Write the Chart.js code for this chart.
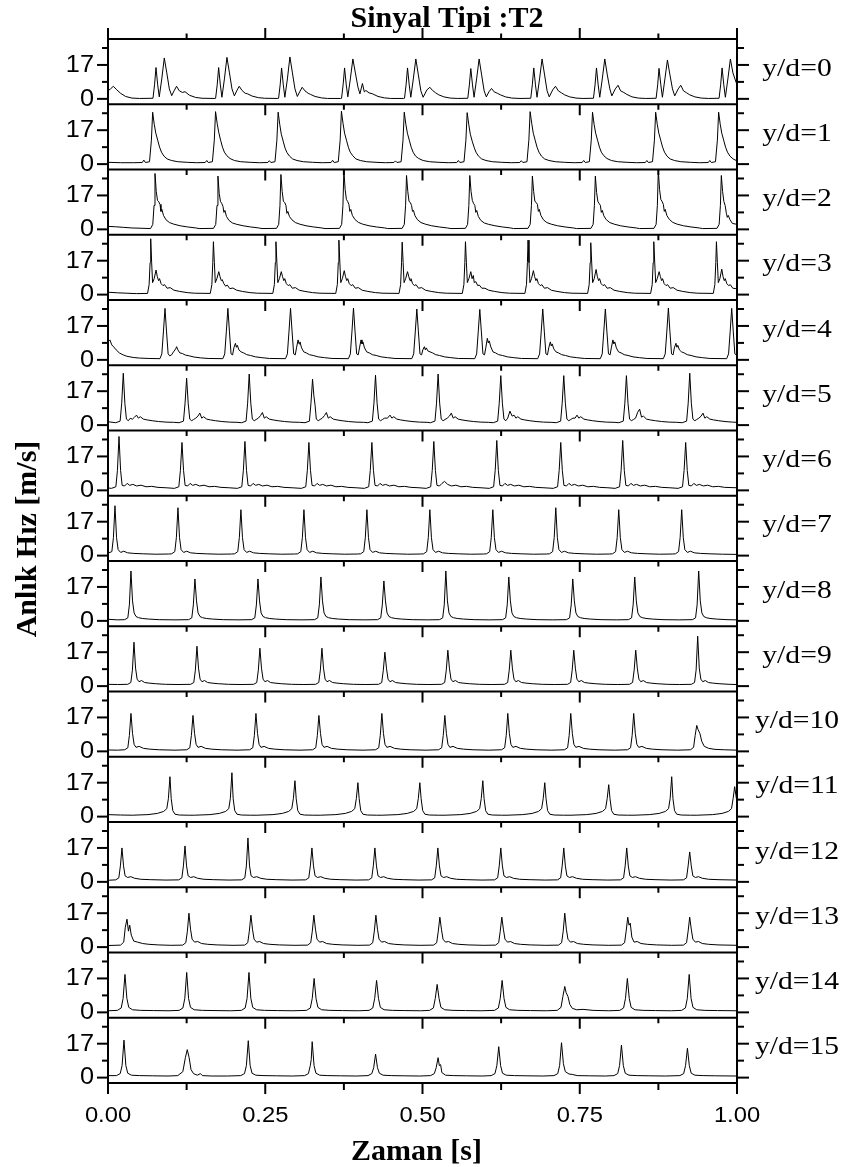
<!DOCTYPE html>
<html>
<head>
<meta charset="utf-8">
<script src="https://cdn.jsdelivr.net/npm/chart.js@4.4.0/dist/chart.umd.min.js"></script>
<style>
html,body{margin:0;padding:0;background:#fff;}
#wrap{position:relative;width:852px;height:1167px;}
</style>
</head>
<body>
<div id="wrap"><canvas id="c" width="852" height="1167"></canvas></div>
<script>
// ---- texts and ticks ----
const chartTitle = 'Sinyal Tipi :T2';
const xTitle = 'Zaman [s]';
const yTitle = 'Anlık Hız [m/s]';
const panelLabels = ['y/d=0','y/d=1','y/d=2','y/d=3','y/d=4','y/d=5','y/d=6','y/d=7',
                     'y/d=8','y/d=9','y/d=10','y/d=11','y/d=12','y/d=13','y/d=14','y/d=15'];
const xTickValues = [0, 0.25, 0.5, 0.75, 1.0];
const xTickLabels = ['0.00', '0.25', '0.50', '0.75', '1.00'];
const xMinorTicks = [0.125, 0.375, 0.625, 0.875];
const yTickValues = [0, 17];
const yTickLabels = ['0', '17'];
const yMinorTicks = [8.5, 25.5];
const yRange = [-2.7, 30];
const xRange = [0, 1];

// ---- series: flat lists of (time [s], velocity [m/s]) ----
const yd0 = [0,4, 0.004,5, 0.0085,6.3, 0.014,4.5, 0.02,2.8, 0.028,1.2, 0.038,0.4, 0.05,0.2,
0.0715,0.3, 0.074,7, 0.0763,15.7, 0.079,7, 0.0815,1, 0.0855,10, 0.0895,20.5, 0.0935,13, 0.0975,5, 0.1013,1.6, 0.105,4, 0.109,6.3, 0.1135,4, 0.1185,3.2, 0.1225,3.6, 0.1295,1.8, 0.1395,0.7, 0.1495,0.3, 0.17,0.2,
0.1711,0.3, 0.1736,7, 0.1759,15.7, 0.1786,7, 0.1811,0.8, 0.1851,10, 0.1891,20.8, 0.1931,13, 0.1971,5, 0.2009,1.5, 0.2046,4, 0.2086,6.3, 0.2131,4.2, 0.2181,2.8, 0.2221,2.5, 0.2291,1.4, 0.2391,0.6, 0.2491,0.3, 0.27,0.2,
0.2712,0.3, 0.2737,7, 0.276,15.5, 0.2787,7, 0.2812,0.8, 0.2852,10, 0.2892,21, 0.2932,13, 0.2972,5, 0.301,1.2, 0.3047,3.5, 0.3087,5.8, 0.3132,4, 0.3182,2.8, 0.3222,2.2, 0.3292,1.2, 0.3392,0.5, 0.3492,0.2, 0.37,0.2,
0.3713,0.3, 0.3738,7, 0.3761,15.5, 0.3788,7, 0.3813,1, 0.3853,10, 0.3893,20, 0.3933,13, 0.3973,6, 0.4005,2.5, 0.4045,7.7, 0.4075,3.5, 0.41,4.2, 0.415,3, 0.42,2.6, 0.4293,1.2, 0.4393,0.5, 0.4493,0.2, 0.47,0.2,
0.4714,0.3, 0.4739,7, 0.4762,15.5, 0.4789,7, 0.4814,0.8, 0.4854,10, 0.4894,20, 0.4934,12, 0.4974,4, 0.501,0.8, 0.507,4.5, 0.5117,5.8, 0.516,4.2, 0.521,3, 0.526,2, 0.534,1, 0.544,0.4, 0.556,0.2,
0.572,0.3, 0.5745,7, 0.5768,15.2, 0.5795,7, 0.582,0.8, 0.586,10, 0.59,20, 0.594,12, 0.598,4, 0.6015,1, 0.6055,3.5, 0.6097,5.2, 0.614,3.5, 0.619,2.8, 0.624,2, 0.632,1, 0.642,0.4, 0.655,0.2,
0.6721,0.3, 0.6746,7, 0.6769,15.5, 0.6796,7, 0.6821,0.8, 0.6861,10, 0.6901,20, 0.6941,12, 0.6981,4, 0.7015,1, 0.707,4.5, 0.7114,6.3, 0.716,4, 0.721,3, 0.726,2, 0.734,1, 0.744,0.4, 0.755,0.2,
0.7718,0.3, 0.7743,7, 0.7766,15.5, 0.7793,7, 0.7818,0.8, 0.7858,10, 0.7898,20, 0.7938,12, 0.7978,5, 0.801,1.5, 0.8065,5, 0.8109,6.8, 0.815,4, 0.82,3.2, 0.825,2.2, 0.833,1, 0.843,0.4, 0.855,0.2,
0.8714,0.3, 0.8739,7, 0.876,15.3, 0.8789,7, 0.8814,0.8, 0.8854,10, 0.8894,19.5, 0.8934,12, 0.8974,5, 0.901,1.5, 0.9065,5, 0.9106,6.8, 0.915,4, 0.92,3, 0.925,2, 0.933,1, 0.943,0.4, 0.955,0.2,
0.9715,0.3, 0.974,7, 0.9763,15.5, 0.979,7, 0.9815,0.8, 0.9855,10, 0.9895,20, 0.9935,13, 1,7];

const yd1 = [0,0.9, 0.02,0.7,
0.041,0.7, 0.0545,0.8, 0.057,2, 0.0595,0.8, 0.066,1.2, 0.069,12, 0.071,26, 0.0735,20, 0.076,15.5, 0.079,12, 0.082,8.5, 0.085,6, 0.089,4, 0.094,2.6, 0.101,1.8, 0.111,1.2, 0.126,0.9, 0.141,0.7,
0.1545,0.8, 0.157,1.8, 0.1595,0.8, 0.166,1.2, 0.169,12, 0.171,26.3, 0.1735,20.5, 0.176,16, 0.179,12, 0.182,8.5, 0.185,6, 0.189,4.2, 0.194,2.8, 0.201,1.8, 0.211,1.2, 0.226,0.9, 0.241,0.7,
0.254,0.8, 0.2565,1.7, 0.259,0.8, 0.2655,1.2, 0.2685,12, 0.2705,26, 0.273,20, 0.2755,15, 0.2785,11.5, 0.2815,8, 0.2845,5.8, 0.2885,4, 0.2935,2.6, 0.3005,1.8, 0.3105,1.2, 0.3255,0.9, 0.3405,0.7,
0.3546,0.8, 0.3571,1.9, 0.3596,0.8, 0.3661,1.2, 0.3691,12, 0.3711,26.5, 0.3736,20.5, 0.3761,15.5, 0.3791,12, 0.3821,8.5, 0.3851,6, 0.3891,4.2, 0.3941,2.6, 0.4011,1.8, 0.4111,1.2, 0.4261,0.9, 0.4411,0.7,
0.4545,0.8, 0.457,1.6, 0.4595,0.8, 0.466,1.2, 0.469,12, 0.471,26, 0.4735,20, 0.476,15.5, 0.479,12, 0.482,8.5, 0.485,6, 0.489,4, 0.494,2.8, 0.501,1.8, 0.511,1.2, 0.526,0.9, 0.541,0.7,
0.5545,0.8, 0.557,1.8, 0.5595,0.8, 0.566,1.2, 0.569,12, 0.571,25.8, 0.5735,20, 0.576,15, 0.579,11.5, 0.582,8.5, 0.585,6, 0.589,4, 0.594,2.6, 0.601,1.8, 0.611,1.2, 0.626,0.9, 0.641,0.7,
0.6546,0.8, 0.6571,1.7, 0.6596,0.8, 0.6661,1.2, 0.6691,12, 0.6711,26.3, 0.6736,20.5, 0.6761,15.5, 0.6791,12, 0.6821,8.5, 0.6851,6, 0.6891,4, 0.6941,2.6, 0.7011,1.8, 0.7111,1.2, 0.7261,0.9, 0.7411,0.7,
0.7538,0.8, 0.7563,1.8, 0.7588,0.8, 0.7653,1.2, 0.7683,12, 0.7703,26, 0.7728,20, 0.7753,15.5, 0.7783,12, 0.7813,8.5, 0.7843,6, 0.7883,4.2, 0.7933,2.8, 0.8003,1.8, 0.8103,1.2, 0.8253,0.9, 0.8403,0.7,
0.8542,0.8, 0.8567,1.8, 0.8592,0.8, 0.8657,1.2, 0.8687,12, 0.8707,26, 0.8732,20, 0.8757,15.5, 0.8787,12, 0.8817,8.5, 0.8847,6, 0.8887,4, 0.8937,2.6, 0.9007,1.8, 0.9107,1.2, 0.9257,0.9, 0.9407,0.7,
0.9543,0.8, 0.9568,1.8, 0.9593,0.8, 0.9658,1.2, 0.9688,12, 0.9708,26, 0.9733,20, 0.9758,15.5, 0.9788,12, 0.9818,8.5, 0.9848,6, 0.9888,4, 0.9938,2.6, 1,1.6];

const yd2 = [0,1.5, 0.012,1.3, 0.025,1, 0.038,0.7, 0.0677,0.4,
0.0712,2.5, 0.0732,12, 0.0747,28, 0.0767,19, 0.0787,14.5, 0.0807,13.8, 0.0827,12.5, 0.0842,9, 0.0857,10, 0.0882,7, 0.0922,4.8, 0.0977,3.4, 0.1047,2.6, 0.1147,1.8, 0.1267,1.2, 0.1397,0.7,
0.1448,0.4, 0.1678,0.5, 0.1713,2.5, 0.1733,12, 0.1748,26.7, 0.1768,18, 0.1788,14, 0.1808,13, 0.1828,11.5, 0.1843,8.5, 0.1858,9.5, 0.1883,6.5, 0.1923,4.5, 0.1978,3.2, 0.2048,2.5, 0.2148,1.8, 0.2268,1.2, 0.2398,0.7,
0.2449,0.4, 0.2679,0.5, 0.2714,2.5, 0.2734,12, 0.2749,27.5, 0.2769,19, 0.2789,14, 0.2809,13.5, 0.2829,12, 0.2844,8, 0.2859,9, 0.2884,6.5, 0.2924,4.8, 0.2979,3.4, 0.3049,2.6, 0.3149,1.8, 0.3269,1.2, 0.3399,0.7,
0.345,0.4, 0.368,0.5, 0.3715,2.5, 0.3735,12, 0.375,29.5, 0.377,20, 0.379,15, 0.381,14, 0.383,12.5, 0.3845,9, 0.386,10, 0.3885,7, 0.3925,5, 0.398,3.5, 0.405,2.6, 0.415,1.8, 0.427,1.2, 0.44,0.7,
0.4446,0.4, 0.4676,0.5, 0.4711,2.5, 0.4731,12, 0.4746,27, 0.4766,19, 0.4786,14, 0.4806,13.5, 0.4826,12, 0.4841,9, 0.4856,9.5, 0.4881,6.8, 0.4921,4.8, 0.4976,3.4, 0.5046,2.6, 0.5146,1.8, 0.5266,1.2, 0.5396,0.7,
0.5452,0.4, 0.5682,0.5, 0.5717,2.5, 0.5737,12, 0.5752,27, 0.5772,19, 0.5792,14.5, 0.5812,13, 0.5832,12, 0.5847,8.5, 0.5862,9.5, 0.5887,6.5, 0.5927,4.5, 0.5982,3.2, 0.6052,2.5, 0.6152,1.8, 0.6272,1.2, 0.6402,0.7,
0.6447,0.4, 0.6677,0.5, 0.6712,2.5, 0.6732,12, 0.6747,26.7, 0.6767,19, 0.6787,14, 0.6807,13.5, 0.6827,12.5, 0.6842,9, 0.6857,10, 0.6882,7, 0.6922,4.8, 0.6977,3.4, 0.7047,2.6, 0.7147,1.8, 0.7267,1.2, 0.7397,0.7,
0.7448,0.4, 0.7678,0.5, 0.7713,2.5, 0.7733,12, 0.7748,26.7, 0.7768,18.5, 0.7788,14, 0.7808,13, 0.7828,12, 0.7843,8.5, 0.7858,9.5, 0.7883,6.8, 0.7923,4.8, 0.7978,3.4, 0.8048,2.6, 0.8148,1.8, 0.8268,1.2, 0.8398,0.7,
0.8449,0.4, 0.8679,0.5, 0.8714,2.5, 0.8734,12, 0.8749,29.5, 0.8769,20, 0.8789,15, 0.8809,14, 0.8829,12.5, 0.8844,9, 0.8859,10, 0.8884,7, 0.8924,5, 0.8979,3.5, 0.9049,2.6, 0.9149,1.8, 0.9269,1.2, 0.9399,0.7,
0.9451,0.4, 0.9681,0.5, 0.9716,2.5, 0.9736,12, 0.9751,27, 0.9771,19, 0.9791,14, 0.9811,12, 0.9831,8, 0.9846,6, 0.9861,7, 0.9886,5, 0.9926,3, 1,2.5];

const yd3 = [0,1.2, 0.015,0.9, 0.03,0.7, 0.045,0.5,
0.0629,0.6, 0.0654,5, 0.0669,16, 0.0679,28, 0.0694,16, 0.0709,6, 0.0734,8, 0.0764,12.3, 0.0784,9, 0.0804,7, 0.0819,8, 0.0844,5.5, 0.0874,4.5, 0.0899,5, 0.0939,3.2, 0.0989,3.5, 0.1049,2.2, 0.1139,1.6, 0.1259,1, 0.1379,0.7,
0.1626,0.6, 0.1651,5, 0.1666,16, 0.1676,26.5, 0.1691,16, 0.1706,6, 0.1731,8, 0.1761,11.5, 0.1781,9, 0.1801,7, 0.1816,7.5, 0.1841,5.5, 0.1871,4.2, 0.1896,4.8, 0.1936,3, 0.1986,3.3, 0.2046,2.2, 0.2136,1.6, 0.2256,1, 0.2376,0.7,
0.262,0.6, 0.2645,5, 0.266,16, 0.267,26.5, 0.2685,16, 0.27,6, 0.2725,8, 0.2755,11.5, 0.2775,9, 0.2795,7, 0.281,8, 0.2835,5.5, 0.2865,4.5, 0.289,5, 0.293,3.2, 0.298,3.5, 0.304,2.2, 0.313,1.6, 0.325,1, 0.337,0.7,
0.3621,0.6, 0.3646,5, 0.3661,16, 0.3671,27.3, 0.3686,16, 0.3701,6, 0.3726,8, 0.3756,12, 0.3776,9, 0.3796,7, 0.3811,8, 0.3836,5.5, 0.3866,4.5, 0.3891,5, 0.3931,3.2, 0.3981,3.5, 0.4041,2.2, 0.4131,1.6, 0.4251,1, 0.4371,0.7,
0.4627,0.6, 0.4652,5, 0.4667,16, 0.4677,26.3, 0.4692,16, 0.4707,6, 0.4732,8, 0.4762,11.5, 0.4782,9, 0.4802,7, 0.4817,8, 0.4842,5.5, 0.4872,4.5, 0.4897,5, 0.4937,3.2, 0.4987,3.5, 0.5047,2.2, 0.5137,1.6, 0.5257,1, 0.5377,0.7,
0.5633,0.6, 0.5658,5, 0.5673,16, 0.5683,26.5, 0.5698,16, 0.5713,6, 0.5738,8, 0.5768,11.5, 0.5788,8, 0.5808,9.6, 0.5823,6, 0.5848,6.5, 0.5878,4.5, 0.5903,4.8, 0.5943,3.2, 0.5993,3.2, 0.6053,2.2, 0.6143,1.6, 0.6263,1, 0.6383,0.7,
0.6628,0.6, 0.6653,5, 0.6668,16, 0.6678,27.3, 0.6693,16, 0.6708,6, 0.6733,8, 0.6763,12, 0.6783,9, 0.6803,7, 0.6818,8, 0.6843,5.5, 0.6873,4.5, 0.6898,5, 0.6938,3.2, 0.6988,3.5, 0.7048,2.2, 0.7138,1.6, 0.7258,1, 0.7378,0.7,
0.7625,0.6, 0.765,5, 0.7665,16, 0.7675,26, 0.769,16, 0.7705,6, 0.773,8, 0.776,12.6, 0.778,9, 0.78,7, 0.7815,8, 0.784,5.5, 0.787,4.5, 0.7895,5, 0.7935,3.2, 0.7985,3.5, 0.8045,2.2, 0.8135,1.6, 0.8255,1, 0.8375,0.7,
0.8627,0.6, 0.8652,5, 0.8667,16, 0.8677,26.5, 0.8692,16, 0.8707,6, 0.8732,8, 0.8762,11.5, 0.8782,9, 0.8802,7, 0.8817,8, 0.8842,5.5, 0.8872,4.5, 0.8897,5, 0.8937,3.2, 0.8987,3.5, 0.9047,2.2, 0.9137,1.6, 0.9257,1, 0.9377,0.7,
0.9623,0.6, 0.9648,5, 0.9663,16, 0.9673,26.5, 0.9688,16, 0.9703,6, 0.9728,8, 0.9758,12.8, 0.9778,9, 0.9798,7, 0.9813,8, 0.9838,5.5, 0.9868,4.5, 0.9893,5, 0.9933,3.2, 0.9983,3, 1,2.5];

const yd4 = [0,9, 0.003,10, 0.006,7.5, 0.009,6.5, 0.013,5, 0.018,3.5, 0.024,2.5, 0.03,1.8, 0.04,1.2, 0.05,0.9, 0.065,0.7,
0.0826,0.6, 0.0856,3, 0.0881,14, 0.0906,25.8, 0.0931,14, 0.0956,3, 0.0981,2, 0.1011,2.5, 0.1041,4, 0.1076,5.5, 0.1091,6.6, 0.1111,5, 0.1141,3.5, 0.1181,3.2, 0.1231,2.4, 0.1291,2, 0.1371,1.4, 0.1471,1, 0.1591,0.7,
0.1826,0.6, 0.1856,3, 0.1881,14, 0.1906,25.8, 0.1931,14, 0.1956,3, 0.1981,2.5, 0.2001,6, 0.2026,8.3, 0.2041,6.3, 0.2056,7.3, 0.2081,5, 0.2116,4, 0.2156,3.5, 0.2206,2.6, 0.2266,2.2, 0.2346,1.5, 0.2446,1.1, 0.2566,0.7,
0.2822,0.6, 0.2852,3, 0.2877,14, 0.2902,25.8, 0.2927,14, 0.2952,3, 0.2977,2.5, 0.2997,6, 0.3022,10, 0.3037,8, 0.3052,9, 0.3077,6, 0.3112,4, 0.3152,3.5, 0.3202,2.6, 0.3262,2.2, 0.3342,1.5, 0.3442,1.1, 0.3562,0.7,
0.3823,0.6, 0.3853,3, 0.3878,14, 0.3903,26, 0.3928,14, 0.3953,3, 0.3978,2.5, 0.3998,6, 0.4023,10, 0.4038,8, 0.4053,9, 0.4078,6, 0.4113,4, 0.4153,3.5, 0.4203,2.6, 0.4263,2.2, 0.4343,1.5, 0.4443,1.1, 0.4563,0.7,
0.483,0.6, 0.486,3, 0.4885,14, 0.491,25.5, 0.4935,14, 0.496,3, 0.4985,2.5, 0.5005,5, 0.503,6.6, 0.5045,5, 0.506,6, 0.5085,4.5, 0.512,4, 0.516,3.5, 0.521,2.6, 0.527,2.2, 0.535,1.5, 0.545,1.1, 0.557,0.7,
0.5831,0.6, 0.5861,3, 0.5886,14, 0.5911,25.3, 0.5936,14, 0.5961,3, 0.5986,2.5, 0.6006,6, 0.6031,10.8, 0.6046,8.5, 0.6061,9.5, 0.6086,6.5, 0.6121,4, 0.6161,3.5, 0.6211,2.6, 0.6271,2.2, 0.6351,1.5, 0.6451,1.1, 0.6571,0.7,
0.6832,0.6, 0.6862,3, 0.6887,14, 0.6912,25.5, 0.6937,14, 0.6962,3, 0.6987,2.5, 0.7007,6, 0.7032,9, 0.7047,7, 0.7062,8, 0.7087,5.5, 0.7122,4, 0.7162,3.5, 0.7212,2.6, 0.7272,2.2, 0.7352,1.5, 0.7452,1.1, 0.7572,0.7,
0.7827,0.6, 0.7857,3, 0.7882,14, 0.7907,25.5, 0.7932,14, 0.7957,3, 0.7982,2.5, 0.8002,6, 0.8027,10, 0.8042,8, 0.8057,9, 0.8082,6, 0.8117,4, 0.8157,3.5, 0.8207,2.6, 0.8267,2.2, 0.8347,1.5, 0.8447,1.1, 0.8567,0.7,
0.8829,0.6, 0.8859,3, 0.8884,14, 0.8909,26, 0.8934,14, 0.8959,3, 0.8984,2.5, 0.9004,6, 0.9029,8.3, 0.9044,6.3, 0.9059,7.3, 0.9084,5, 0.9119,4, 0.9159,3.5, 0.9209,2.6, 0.9269,2.2, 0.9349,1.5, 0.9449,1.1, 0.9569,0.7,
0.9836,0.6, 0.9866,3, 0.9891,14, 0.9916,25.8, 0.9941,14, 0.9966,3, 0.9991,2.5, 1,4];

const yd5 = [0,1.7,
0.0123,1.2, 0.0193,2, 0.0218,11, 0.0243,26, 0.0268,11, 0.0293,3, 0.0323,2.2, 0.0353,3.4, 0.0388,3, 0.0423,4, 0.0453,5, 0.0483,3.5, 0.0513,4.2, 0.0563,3, 0.0623,2.6, 0.0703,2.2, 0.0803,1.8, 0.0923,1.5, 0.1043,1.4,
0.113,1.2, 0.12,2, 0.1225,11, 0.125,23.5, 0.1275,11, 0.13,3, 0.133,2.2, 0.136,2.8, 0.1395,3.5, 0.143,4.5, 0.146,6, 0.149,3.5, 0.152,4.2, 0.157,3, 0.163,2.6, 0.171,2.2, 0.181,1.8, 0.193,1.5, 0.205,1.4,
0.2125,1.2, 0.2195,2, 0.222,11, 0.2245,25.6, 0.227,11, 0.2295,3, 0.2325,2.2, 0.2355,2.8, 0.239,3.5, 0.2425,4.8, 0.2455,6.3, 0.2485,3.5, 0.2515,4.2, 0.2565,3, 0.2625,2.6, 0.2705,2.2, 0.2805,1.8, 0.2925,1.5, 0.3045,1.4,
0.3132,1.2, 0.3202,2, 0.3227,11, 0.3252,23, 0.3272,15, 0.3292,10, 0.3312,3, 0.3342,2.2, 0.3372,2.8, 0.3407,3.5, 0.3442,4.8, 0.3472,6.3, 0.3502,3.5, 0.3532,4.2, 0.3582,3, 0.3642,2.6, 0.3722,2.2, 0.3822,1.8, 0.3942,1.5, 0.4062,1.4,
0.4133,1.2, 0.4203,2, 0.4228,11, 0.4253,25, 0.4278,11, 0.4303,3, 0.4333,2.2, 0.4363,2.8, 0.4398,3.5, 0.4443,3.5, 0.4483,5, 0.4513,3.5, 0.4543,4.2, 0.4593,3, 0.4653,2.6, 0.4733,2.2, 0.4833,1.8, 0.4953,1.5, 0.5073,1.4,
0.5128,1.2, 0.5198,2, 0.5223,11, 0.5248,25.6, 0.5273,11, 0.5298,3, 0.5328,2.2, 0.5358,2.8, 0.5393,3.5, 0.5428,4.5, 0.5458,6, 0.5488,3.5, 0.5518,4.2, 0.5568,3, 0.5628,2.6, 0.5708,2.2, 0.5808,1.8, 0.5928,1.5, 0.6048,1.4,
0.6125,1.2, 0.6195,2, 0.622,11, 0.6245,24.8, 0.627,11, 0.6295,3, 0.6325,2.2, 0.6355,3.5, 0.639,7, 0.6425,4.5, 0.6455,5, 0.6485,3.5, 0.6515,4.2, 0.6565,3, 0.6625,2.6, 0.6705,2.2, 0.6805,1.8, 0.6925,1.5, 0.7045,1.4,
0.7126,1.2, 0.7196,2, 0.7221,11, 0.7246,24.8, 0.7271,11, 0.7296,3, 0.7326,2.2, 0.7356,2.8, 0.7391,3.5, 0.7426,3.5, 0.7456,5, 0.7486,3.5, 0.7516,4.2, 0.7566,3, 0.7626,2.6, 0.7706,2.2, 0.7806,1.8, 0.7926,1.5, 0.8046,1.4,
0.8122,1.2, 0.8192,2, 0.8217,11, 0.8242,24.8, 0.8267,11, 0.8292,3, 0.8322,2.2, 0.8352,2.8, 0.8387,3.5, 0.8422,6.5, 0.8452,8, 0.8482,4, 0.8512,4.5, 0.8562,3, 0.8622,2.6, 0.8702,2.2, 0.8802,1.8, 0.8922,1.5, 0.9042,1.4,
0.9129,1.2, 0.9199,2, 0.9224,11, 0.9249,26, 0.9274,11, 0.9299,3, 0.9329,2.2, 0.9359,2.8, 0.9394,3.5, 0.9429,4.5, 0.9459,6, 0.9489,3.5, 0.9519,4.2, 0.9569,3, 0.9629,2.6, 0.9709,2.2, 0.9809,1.8, 0.9929,1.5, 1,1.4];

const yd6 = [0,1.2,
0.0055,1, 0.0125,1.8, 0.015,10, 0.0175,27, 0.02,10, 0.0225,2.5, 0.0265,2.2, 0.0305,3.5, 0.0345,2.5, 0.0395,3, 0.0455,2.2, 0.0525,2.6, 0.0605,1.8, 0.0695,2, 0.0795,1.5, 0.0925,1.3,
0.1056,1, 0.1126,1.8, 0.1151,10, 0.1176,24, 0.1201,10, 0.1226,2.5, 0.1266,2.2, 0.1306,3.5, 0.1346,2.5, 0.1396,3, 0.1456,2.2, 0.1526,2.6, 0.1606,1.8, 0.1696,2, 0.1796,1.5, 0.1926,1.3,
0.2057,1, 0.2127,1.8, 0.2152,10, 0.2177,24.5, 0.2202,10, 0.2227,2.5, 0.2267,2.2, 0.2307,3.5, 0.2347,2.5, 0.2397,3, 0.2457,2.2, 0.2527,2.6, 0.2607,1.8, 0.2697,2, 0.2797,1.5, 0.2927,1.3,
0.3074,1, 0.3144,1.8, 0.3169,10, 0.3194,24, 0.3219,10, 0.3244,2.5, 0.3284,2.2, 0.3324,3.5, 0.3364,2.5, 0.3414,3, 0.3474,2.2, 0.3544,2.6, 0.3624,1.8, 0.3714,2, 0.3814,1.5, 0.3944,1.3,
0.4075,1, 0.4145,1.8, 0.417,10, 0.4195,24, 0.422,10, 0.4245,2.5, 0.4285,2.2, 0.4325,3.5, 0.4365,2.5, 0.4415,3, 0.4475,2.2, 0.4545,2.6, 0.4625,1.8, 0.4715,2, 0.4815,1.5, 0.4945,1.3,
0.506,1, 0.513,1.8, 0.5155,10, 0.518,24.5, 0.5205,10, 0.523,2.5, 0.527,2.2, 0.531,3.5, 0.535,4.5, 0.54,3, 0.546,2.2, 0.553,2.6, 0.561,1.8, 0.57,2, 0.58,1.5, 0.593,1.3,
0.6061,1, 0.6131,1.8, 0.6156,10, 0.6181,25, 0.6206,10, 0.6231,2.5, 0.6271,2.2, 0.6311,3.5, 0.6351,2.5, 0.6401,3, 0.6461,2.2, 0.6531,2.6, 0.6611,1.8, 0.6701,2, 0.6801,1.5, 0.6931,1.3,
0.7078,1, 0.7148,1.8, 0.7173,10, 0.7198,24, 0.7223,10, 0.7248,2.5, 0.7288,2.2, 0.7328,3.5, 0.7368,2.5, 0.7418,3, 0.7478,2.2, 0.7548,2.6, 0.7628,1.8, 0.7718,2, 0.7818,1.5, 0.7948,1.3,
0.8063,1, 0.8133,1.8, 0.8158,10, 0.8183,25, 0.8208,10, 0.8233,2.5, 0.8273,2.2, 0.8313,3.5, 0.8353,2.5, 0.8403,3, 0.8463,2.2, 0.8533,2.6, 0.8613,1.8, 0.8703,2, 0.8803,1.5, 0.8933,1.3,
0.9064,1, 0.9134,1.8, 0.9159,10, 0.9184,24, 0.9209,10, 0.9234,2.5, 0.9274,2.2, 0.9314,3.5, 0.9354,2.5, 0.9404,3, 0.9464,2.2, 0.9534,2.6, 0.9614,1.8, 0.9704,2, 0.9804,1.5, 1,1.3];

const yd7 = [0,1.2, 0.0061,2, 0.0086,9, 0.0111,25, 0.0136,9, 0.0161,3, 0.0201,1.6, 0.0251,2.2, 0.0311,1.4, 0.0411,1.1, 0.0561,0.9, 0.0761,0.7, 0.0961,0.8,
0.1012,0.9, 0.1062,2, 0.1087,9, 0.1112,24, 0.1137,9, 0.1162,3, 0.1202,1.6, 0.1252,2.2, 0.1312,1.4, 0.1412,1.1, 0.1562,0.9, 0.1762,0.7, 0.1962,0.8,
0.2013,0.9, 0.2063,2, 0.2088,9, 0.2113,23, 0.2138,9, 0.2163,3, 0.2203,1.6, 0.2253,2.2, 0.2313,1.4, 0.2413,1.1, 0.2563,0.9, 0.2763,0.7, 0.2963,0.8,
0.3015,0.9, 0.3065,2, 0.309,9, 0.3115,23, 0.314,9, 0.3165,3, 0.3205,1.6, 0.3255,2.2, 0.3315,1.4, 0.3415,1.1, 0.3565,0.9, 0.3765,0.7, 0.3965,0.8,
0.4016,0.9, 0.4066,2, 0.4091,9, 0.4116,23, 0.4141,9, 0.4166,3, 0.4206,1.6, 0.4256,2.2, 0.4316,1.4, 0.4416,1.1, 0.4566,0.9, 0.4766,0.7, 0.4966,0.8,
0.5017,0.9, 0.5067,2, 0.5092,9, 0.5117,23, 0.5142,9, 0.5167,3, 0.5207,1.6, 0.5257,2.2, 0.5317,1.4, 0.5417,1.1, 0.5567,0.9, 0.5767,0.7, 0.5967,0.8,
0.6018,0.9, 0.6068,2, 0.6093,9, 0.6118,23, 0.6143,9, 0.6168,3, 0.6208,1.6, 0.6258,2.2, 0.6318,1.4, 0.6418,1.1, 0.6568,0.9, 0.6768,0.7, 0.6968,0.8,
0.7019,0.9, 0.7069,2, 0.7094,9, 0.7119,24, 0.7144,9, 0.7169,3, 0.7209,1.6, 0.7259,2.2, 0.7319,1.4, 0.7419,1.1, 0.7569,0.9, 0.7769,0.7, 0.7969,0.8,
0.802,0.9, 0.807,2, 0.8095,9, 0.812,23, 0.8145,9, 0.817,3, 0.821,1.6, 0.826,2.2, 0.832,1.4, 0.842,1.1, 0.857,0.9, 0.877,0.7, 0.897,0.8,
0.9021,0.9, 0.9071,2, 0.9096,9, 0.9121,23, 0.9146,9, 0.9171,3, 0.9211,1.6, 0.9261,2.2, 0.9321,1.4, 0.9421,1.1, 0.9571,0.9, 0.9771,0.7, 1,0.6];

const yd8 = [0,0.8, 0.015,0.5,
0.0265,0.6, 0.0315,1.5, 0.034,8, 0.0365,25, 0.039,10, 0.0415,4, 0.0445,2.2, 0.0485,1.6, 0.0545,1.2, 0.0645,0.9, 0.0815,0.6, 0.1065,0.5,
0.1282,0.6, 0.1332,1.5, 0.1357,8, 0.1382,21, 0.1407,10, 0.1432,4, 0.1462,2.2, 0.1502,1.6, 0.1562,1.2, 0.1662,0.9, 0.1832,0.6, 0.2082,0.5,
0.2284,0.6, 0.2334,1.5, 0.2359,8, 0.2384,21, 0.2409,10, 0.2434,4, 0.2464,2.2, 0.2504,1.6, 0.2564,1.2, 0.2664,0.9, 0.2834,0.6, 0.3084,0.5,
0.3285,0.6, 0.3335,1.5, 0.336,8, 0.3385,22, 0.341,10, 0.3435,4, 0.3465,2.2, 0.3505,1.6, 0.3565,1.2, 0.3665,0.9, 0.3835,0.6, 0.4085,0.5,
0.4286,0.6, 0.4336,1.5, 0.4361,8, 0.4386,20, 0.4411,10, 0.4436,4, 0.4466,2.2, 0.4506,1.6, 0.4566,1.2, 0.4666,0.9, 0.4836,0.6, 0.5086,0.5,
0.5271,0.6, 0.5321,1.5, 0.5346,8, 0.5371,25, 0.5396,10, 0.5421,4, 0.5451,2.2, 0.5491,1.6, 0.5551,1.2, 0.5651,0.9, 0.5821,0.6, 0.6071,0.5,
0.6272,0.6, 0.6322,1.5, 0.6347,8, 0.6372,22, 0.6397,10, 0.6422,4, 0.6452,2.2, 0.6492,1.6, 0.6552,1.2, 0.6652,0.9, 0.6822,0.6, 0.7072,0.5,
0.7289,0.6, 0.7339,1.5, 0.7364,8, 0.7389,21, 0.7414,10, 0.7439,4, 0.7469,2.2, 0.7509,1.6, 0.7569,1.2, 0.7669,0.9, 0.7839,0.6, 0.8089,0.5,
0.8274,0.6, 0.8324,1.5, 0.8349,8, 0.8374,22, 0.8399,10, 0.8424,4, 0.8454,2.2, 0.8494,1.6, 0.8554,1.2, 0.8654,0.9, 0.8824,0.6, 0.9074,0.5,
0.9291,0.6, 0.9341,1.5, 0.9366,8, 0.9391,25, 0.9416,10, 0.9441,4, 0.9471,2.2, 0.9511,1.6, 0.9571,1.2, 0.9671,0.9, 0.9841,0.6, 1,0.5];

const yd9 = [0,0.9, 0.015,0.8,
0.0313,0.9, 0.0363,1.8, 0.0388,8, 0.0413,22, 0.0438,9, 0.0463,3.5, 0.0493,2.2, 0.0533,2.8, 0.0583,1.8, 0.0653,1.5, 0.0753,1.2, 0.0913,0.9, 0.1113,0.8,
0.1314,0.9, 0.1364,1.8, 0.1389,8, 0.1414,20, 0.1439,9, 0.1464,3.5, 0.1494,2.2, 0.1534,2.8, 0.1584,1.8, 0.1654,1.5, 0.1754,1.2, 0.1914,0.9, 0.2114,0.8,
0.2315,0.9, 0.2365,1.8, 0.239,8, 0.2415,19, 0.244,9, 0.2465,3.5, 0.2495,2.2, 0.2535,2.8, 0.2585,1.8, 0.2655,1.5, 0.2755,1.2, 0.2915,0.9, 0.3115,0.8,
0.3301,0.9, 0.3351,1.8, 0.3376,8, 0.3401,19, 0.3426,9, 0.3451,3.5, 0.3481,2.2, 0.3521,2.8, 0.3571,1.8, 0.3641,1.5, 0.3741,1.2, 0.3901,0.9, 0.4101,0.8,
0.4302,0.9, 0.4352,1.8, 0.4377,8, 0.4402,17, 0.4427,9, 0.4452,3.5, 0.4482,2.2, 0.4522,2.8, 0.4572,1.8, 0.4642,1.5, 0.4742,1.2, 0.4902,0.9, 0.5102,0.8,
0.5303,0.9, 0.5353,1.8, 0.5378,8, 0.5403,18, 0.5428,9, 0.5453,3.5, 0.5483,2.2, 0.5523,2.8, 0.5573,1.8, 0.5643,1.5, 0.5743,1.2, 0.5903,0.9, 0.6103,0.8,
0.6304,0.9, 0.6354,1.8, 0.6379,8, 0.6404,18, 0.6429,9, 0.6454,3.5, 0.6484,2.2, 0.6524,2.8, 0.6574,1.8, 0.6644,1.5, 0.6744,1.2, 0.6904,0.9, 0.7104,0.8,
0.7305,0.9, 0.7355,1.8, 0.738,8, 0.7405,18, 0.743,9, 0.7455,3.5, 0.7485,2.2, 0.7525,2.8, 0.7575,1.8, 0.7645,1.5, 0.7745,1.2, 0.7905,0.9, 0.8105,0.8,
0.829,0.9, 0.834,1.8, 0.8365,8, 0.839,18, 0.8415,9, 0.844,3.5, 0.847,2.2, 0.851,2.8, 0.856,1.8, 0.863,1.5, 0.873,1.2, 0.889,0.9, 0.909,0.8,
0.9275,0.9, 0.9325,1.8, 0.935,8, 0.9375,25, 0.94,9, 0.9425,3.5, 0.9455,2.2, 0.9495,2.8, 0.9545,1.8, 0.9615,1.5, 0.9715,1.2, 0.9875,0.9, 1,0.8];

const yd10 = [0,0.7, 0.015,0.6,
0.0265,0.8, 0.0315,1.8, 0.034,8, 0.0365,19, 0.039,9, 0.0415,3.5, 0.0445,2, 0.0495,2.5, 0.0565,1.5, 0.0665,1.1, 0.0815,0.8, 0.1065,0.6,
0.1251,0.8, 0.1301,1.8, 0.1326,8, 0.1351,18, 0.1376,9, 0.1401,3.5, 0.1431,2, 0.1481,2.5, 0.1551,1.5, 0.1651,1.1, 0.1801,0.8, 0.2051,0.6,
0.2252,0.8, 0.2302,1.8, 0.2327,8, 0.2352,19, 0.2377,9, 0.2402,3.5, 0.2432,2, 0.2482,2.5, 0.2552,1.5, 0.2652,1.1, 0.2802,0.8, 0.3052,0.6,
0.3253,0.8, 0.3303,1.8, 0.3328,8, 0.3353,18, 0.3378,9, 0.3403,3.5, 0.3433,2, 0.3483,2.5, 0.3553,1.5, 0.3653,1.1, 0.3803,0.8, 0.4053,0.6,
0.4254,0.8, 0.4304,1.8, 0.4329,8, 0.4354,19, 0.4379,9, 0.4404,3.5, 0.4434,2, 0.4484,2.5, 0.4554,1.5, 0.4654,1.1, 0.4804,0.8, 0.5054,0.6,
0.5255,0.8, 0.5305,1.8, 0.533,8, 0.5355,18, 0.538,9, 0.5405,3.5, 0.5435,2, 0.5485,2.5, 0.5555,1.5, 0.5655,1.1, 0.5805,0.8, 0.6055,0.6,
0.6256,0.8, 0.6306,1.8, 0.6331,8, 0.6356,19, 0.6381,9, 0.6406,3.5, 0.6436,2, 0.6486,2.5, 0.6556,1.5, 0.6656,1.1, 0.6806,0.8, 0.7056,0.6,
0.7257,0.8, 0.7307,1.8, 0.7332,8, 0.7357,19, 0.7382,9, 0.7407,3.5, 0.7437,2, 0.7487,2.5, 0.7557,1.5, 0.7657,1.1, 0.7807,0.8, 0.8057,0.6,
0.8258,0.8, 0.8308,1.8, 0.8333,8, 0.8358,19, 0.8383,9, 0.8408,3.5, 0.8438,2, 0.8488,2.5, 0.8558,1.5, 0.8658,1.1, 0.8808,0.8, 0.9058,0.6,
0.926,0.8, 0.931,2, 0.9335,8, 0.936,13, 0.938,11, 0.941,9, 0.944,5, 0.948,2.5, 0.955,1.5, 0.965,1, 0.98,0.8, 1,0.6];

const yd11 = [0,1, 0.02,0.8,
0.0385,0.7, 0.0635,1, 0.0785,1.6, 0.0885,2.6, 0.0935,4, 0.096,9, 0.0985,20, 0.1005,9, 0.103,3, 0.1065,1.2, 0.1135,0.8, 0.1285,0.7,
0.137,0.7, 0.162,1, 0.177,1.6, 0.187,2.6, 0.192,4, 0.1945,9, 0.197,22, 0.199,9, 0.2015,3, 0.205,1.2, 0.212,0.8, 0.227,0.7,
0.2372,0.7, 0.2622,1, 0.2772,1.6, 0.2872,2.6, 0.2922,4, 0.2947,9, 0.2972,18, 0.2992,9, 0.3017,3, 0.3052,1.2, 0.3122,0.8, 0.3272,0.7,
0.3373,0.7, 0.3623,1, 0.3773,1.6, 0.3873,2.6, 0.3923,4, 0.3948,9, 0.3973,17, 0.3993,9, 0.4018,3, 0.4053,1.2, 0.4123,0.8, 0.4273,0.7,
0.4358,0.7, 0.4608,1, 0.4758,1.6, 0.4858,2.6, 0.4908,4, 0.4933,9, 0.4958,17, 0.4978,9, 0.5003,3, 0.5038,1.2, 0.5108,0.8, 0.5258,0.7,
0.5359,0.7, 0.5609,1, 0.5759,1.6, 0.5859,2.6, 0.5909,4, 0.5934,9, 0.5959,18, 0.5979,9, 0.6004,3, 0.6039,1.2, 0.6109,0.8, 0.6259,0.7,
0.6344,0.7, 0.6594,1, 0.6744,1.6, 0.6844,2.6, 0.6894,4, 0.6919,9, 0.6944,17, 0.6964,9, 0.6989,3, 0.7024,1.2, 0.7094,0.8, 0.7244,0.7,
0.7361,0.7, 0.7611,1, 0.7761,1.6, 0.7861,2.6, 0.7911,4, 0.7936,9, 0.7961,16, 0.7981,9, 0.8006,3, 0.8041,1.2, 0.8111,0.8, 0.8261,0.7,
0.8362,0.7, 0.8612,1, 0.8762,1.6, 0.8862,2.6, 0.8912,4, 0.8937,9, 0.8962,20, 0.8982,9, 0.9007,3, 0.9042,1.2, 0.9112,0.8, 0.9262,0.7,
0.9363,0.7, 0.9613,1, 0.9763,1.6, 0.9863,2.6, 0.9913,4, 0.9938,9, 0.9963,15, 1,7];

const yd12 = [0,0.8,
0.0122,1, 0.0172,2, 0.0197,8, 0.0222,17, 0.0247,8, 0.0272,3, 0.0312,2.2, 0.0362,2.6, 0.0422,1.8, 0.0522,1.3, 0.0672,1.1, 0.0922,0.9,
0.1124,1, 0.1174,2, 0.1199,8, 0.1224,18, 0.1249,8, 0.1274,3, 0.1314,2.2, 0.1364,2.6, 0.1424,1.8, 0.1524,1.3, 0.1674,1.1, 0.1924,0.9,
0.2125,1, 0.2175,2, 0.22,8, 0.2225,22, 0.225,8, 0.2275,3, 0.2315,2.2, 0.2365,2.6, 0.2425,1.8, 0.2525,1.3, 0.2675,1.1, 0.2925,0.9,
0.3142,1, 0.3192,2, 0.3217,8, 0.3242,17, 0.3267,8, 0.3292,3, 0.3332,2.2, 0.3382,2.6, 0.3442,1.8, 0.3542,1.3, 0.3692,1.1, 0.3942,0.9,
0.4143,1, 0.4193,2, 0.4218,8, 0.4243,17, 0.4268,8, 0.4293,3, 0.4333,2.2, 0.4383,2.6, 0.4443,1.8, 0.4543,1.3, 0.4693,1.1, 0.4943,0.9,
0.5144,1, 0.5194,2, 0.5219,8, 0.5244,17, 0.5269,8, 0.5294,3, 0.5334,2.2, 0.5384,2.6, 0.5444,1.8, 0.5544,1.3, 0.5694,1.1, 0.5944,0.9,
0.6145,1, 0.6195,2, 0.622,8, 0.6245,17, 0.627,8, 0.6295,3, 0.6335,2.2, 0.6385,2.6, 0.6445,1.8, 0.6545,1.3, 0.6695,1.1, 0.6945,0.9,
0.7146,1, 0.7196,2, 0.7221,8, 0.7246,17, 0.7271,8, 0.7296,3, 0.7336,2.2, 0.7386,2.6, 0.7446,1.8, 0.7546,1.3, 0.7696,1.1, 0.7946,0.9,
0.8147,1, 0.8197,2, 0.8222,8, 0.8247,17, 0.8272,8, 0.8297,3, 0.8337,2.2, 0.8387,2.6, 0.8447,1.8, 0.8547,1.3, 0.8697,1.1, 0.8947,0.9,
0.9148,1, 0.9198,2, 0.9223,8, 0.9248,15, 0.9273,8, 0.9298,3, 0.9338,2.2, 0.9388,2.6, 0.9448,1.8, 0.9548,1.3, 0.9698,1.1, 1,0.9];

const yd13 = [0,0.8, 0.02,1, 0.025,2.5, 0.0275,10, 0.0302,14, 0.0325,8, 0.0345,11, 0.037,6, 0.041,3, 0.047,2.5, 0.055,1.8, 0.065,1.4, 0.08,1.1, 0.1,0.9,
0.1187,1, 0.1237,2.2, 0.1262,8, 0.1287,17, 0.1312,9, 0.1337,4, 0.1377,2.5, 0.1427,2.8, 0.1487,1.8, 0.1587,1.4, 0.1737,1.1, 0.1987,0.9,
0.2172,1, 0.2222,2.2, 0.2247,8, 0.2272,16, 0.2297,9, 0.2322,4, 0.2362,2.5, 0.2412,2.8, 0.2472,1.8, 0.2572,1.4, 0.2722,1.1, 0.2972,0.9,
0.3173,1, 0.3223,2.2, 0.3248,8, 0.3273,16, 0.3298,9, 0.3323,4, 0.3363,2.5, 0.3413,2.8, 0.3473,1.8, 0.3573,1.4, 0.3723,1.1, 0.3973,0.9,
0.4159,1, 0.4209,2.2, 0.4234,8, 0.4259,16, 0.4284,9, 0.4309,4, 0.4349,2.5, 0.4399,2.8, 0.4459,1.8, 0.4559,1.4, 0.4709,1.1, 0.4959,0.9,
0.5176,1, 0.5226,2.2, 0.5251,8, 0.5276,15, 0.5301,9, 0.5326,4, 0.5366,2.5, 0.5416,2.8, 0.5476,1.8, 0.5576,1.4, 0.5726,1.1, 0.5976,0.9,
0.6161,1, 0.6211,2.2, 0.6236,8, 0.6261,15, 0.6286,9, 0.6311,4, 0.6351,2.5, 0.6401,2.8, 0.6461,1.8, 0.6561,1.4, 0.6711,1.1, 0.6961,0.9,
0.7162,1, 0.7212,2.2, 0.7237,8, 0.7262,17, 0.7287,9, 0.7312,4, 0.7352,2.5, 0.7402,2.8, 0.7462,1.8, 0.7562,1.4, 0.7712,1.1, 0.7962,0.9,
0.8163,1, 0.8213,2.2, 0.8238,8, 0.8263,15, 0.8283,11, 0.8303,12, 0.8328,5, 0.8363,2.5, 0.8413,2.8, 0.8473,1.8, 0.8573,1.4, 0.8723,1.1, 0.8963,0.9,
0.9148,1, 0.9198,2.2, 0.9223,8, 0.9248,15, 0.9273,9, 0.9298,4, 0.9338,2.5, 0.9388,2.8, 0.9448,1.8, 0.9548,1.4, 0.9698,1.1, 1,0.9];

const yd14 = [0,0.8,
0.015,1, 0.021,2.2, 0.024,7, 0.027,19, 0.03,7, 0.033,2.5, 0.039,1.3, 0.052,1, 0.072,0.9, 0.097,0.8,
0.1131,1, 0.1191,2.2, 0.1221,7, 0.1251,20, 0.1281,7, 0.1311,2.5, 0.1371,1.3, 0.1501,1, 0.1701,0.9, 0.1951,0.8,
0.2121,1, 0.2181,2.2, 0.2211,7, 0.2241,20, 0.2271,7, 0.2301,2.5, 0.2361,1.3, 0.2491,1, 0.2691,0.9, 0.2941,0.8,
0.3157,1, 0.3217,2.2, 0.3247,7, 0.3277,17, 0.3307,7, 0.3337,2.5, 0.3397,1.3, 0.3527,1, 0.3727,0.9, 0.3977,0.8,
0.415,1, 0.421,2.2, 0.424,7, 0.427,16, 0.43,7, 0.433,2.5, 0.439,1.3, 0.452,1, 0.472,0.9, 0.497,0.8,
0.5113,1, 0.5173,2.2, 0.5203,7, 0.5233,14, 0.5263,7, 0.5293,2.5, 0.5353,1.3, 0.5483,1, 0.5683,0.9, 0.5933,0.8,
0.6146,1, 0.6206,2.2, 0.6236,7, 0.6266,16, 0.6296,7, 0.6326,2.5, 0.6386,1.3, 0.6516,1, 0.6716,0.9, 0.6966,0.8,
0.7142,1, 0.7202,2.5, 0.7232,8, 0.7262,13, 0.7282,10, 0.7312,8, 0.7342,4, 0.7382,2, 0.7452,1.3, 0.7552,1.5, 0.7712,1, 0.7962,0.8,
0.8137,1, 0.8197,2.2, 0.8227,7, 0.8257,17, 0.8287,7, 0.8317,2.5, 0.8377,1.3, 0.8507,1, 0.8707,0.9, 0.8957,0.8,
0.912,1, 0.918,2.2, 0.921,7, 0.924,19, 0.927,7, 0.93,2.5, 0.936,1.3, 0.949,1, 0.969,0.9, 1,0.8];

const yd15 = [0,1,
0.0134,1, 0.0194,2, 0.0224,6, 0.0254,18.8, 0.0284,6, 0.0314,2.2, 0.0374,1.2, 0.0504,1, 0.0704,0.9, 0.0954,0.8,
0.111,1, 0.119,3, 0.123,10, 0.126,14, 0.129,10, 0.132,4, 0.136,2, 0.142,1.2, 0.147,2, 0.15,1, 0.165,0.8, 0.19,0.8,
0.211,1, 0.217,2, 0.22,6, 0.223,18.5, 0.226,6, 0.229,2.2, 0.235,1.2, 0.248,1, 0.268,0.9, 0.293,0.8,
0.3126,1, 0.3186,2, 0.3216,6, 0.3231,9, 0.3246,18, 0.3276,6, 0.3306,2.2, 0.3366,1.2, 0.3496,1, 0.3696,0.9, 0.3946,0.8,
0.4134,1, 0.4194,2, 0.4224,5, 0.4254,11.8, 0.4284,5, 0.4314,2.2, 0.4374,1.2, 0.4504,1, 0.4704,0.9, 0.4954,0.8,
0.5128,1, 0.5188,2, 0.5218,5, 0.5248,10, 0.5268,6, 0.5288,6.5, 0.5308,2.5, 0.5368,1.2, 0.5498,1, 0.5698,0.9, 0.5948,0.8,
0.6092,1, 0.6152,2, 0.6182,6, 0.6212,15.5, 0.6242,6, 0.6272,2.2, 0.6332,1.2, 0.6462,1, 0.6662,0.9, 0.6912,0.8,
0.709,1, 0.715,2, 0.718,6, 0.721,17.5, 0.724,7, 0.727,3, 0.733,1.8, 0.738,1.6, 0.746,1, 0.766,0.9, 0.791,0.8,
0.8043,1, 0.8103,2, 0.8133,6, 0.8163,16.3, 0.8193,6, 0.8223,2.2, 0.8283,1.2, 0.8413,1, 0.8613,0.9, 0.8863,0.8,
0.9092,1, 0.9152,2, 0.9182,6, 0.9212,14.7, 0.9242,6, 0.9272,2.2, 0.9332,1.2, 0.9462,1, 0.9662,0.9, 1,0.8];

const series = [yd0, yd1, yd2, yd3, yd4, yd5, yd6, yd7, yd8, yd9, yd10, yd11, yd12, yd13, yd14, yd15];

// ---- build chart ----
const toPoints = arr => { const p = []; for (let k = 0; k < arr.length; k += 2) p.push({x: arr[k], y: arr[k + 1]}); return p; };

const scales = {
  x: {
    type: 'linear', min: xRange[0], max: xRange[1], position: 'bottom',
    grid: {display: false}, border: {display: false}, ticks: {display: false},
    afterFit: s => { s.height = 0; }
  }
};
series.forEach((s, i) => {
  scales['y' + i] = {
    type: 'linear', position: 'left', stack: 'panels', stackWeight: 1, weight: series.length - 1 - i,
    min: yRange[0], max: yRange[1],
    grid: {display: false}, border: {display: false}, ticks: {display: false},
    afterFit: sc => { sc.width = 0; }
  };
});

const SERIF = '"Liberation Serif", "Times New Roman", serif';
const SANS = '"Liberation Sans", Arial, sans-serif';

// draw text with a slight horizontal stretch (the original figure's fonts are wide)
function wideText(ctx, text, x, y, sx) {
  ctx.save(); ctx.translate(x, y); ctx.scale(sx, 1); ctx.fillText(text, 0, 0); ctx.restore();
}

const framePlugin = {
  id: 'framePlugin',
  afterDraw(chart) {
    const ctx = chart.ctx, ca = chart.chartArea, xs = chart.scales.x;
    const line = (x1, y1, x2, y2) => { ctx.beginPath(); ctx.moveTo(x1, y1); ctx.lineTo(x2, y2); ctx.stroke(); };
    ctx.save();
    ctx.strokeStyle = '#000'; ctx.fillStyle = '#000'; ctx.lineWidth = 2; ctx.lineCap = 'butt';
    series.forEach((s, i) => {
      const ys = chart.scales['y' + i];
      const top = ys.top;
      line(ca.left - 1, top, ca.right + 1, top);
      yTickValues.forEach(v => { const y = ys.getPixelForValue(v); line(ca.left - 11, y, ca.left, y); line(ca.right, y, ca.right + 12, y); });
      yMinorTicks.forEach(v => { const y = ys.getPixelForValue(v); line(ca.left - 6, y, ca.left, y); line(ca.right, y, ca.right + 7, y); });
      const dir = i === 0 ? -1 : 1;
      xTickValues.forEach(v => { const x = xs.getPixelForValue(v); line(x, top, x, top + dir * 11); });
      xMinorTicks.forEach(v => { const x = xs.getPixelForValue(v); line(x, top, x, top + dir * 5.5); });
      ctx.font = '23px ' + SANS; ctx.textAlign = 'right'; ctx.textBaseline = 'middle';
      yTickValues.forEach((v, k) => wideText(ctx, yTickLabels[k], ca.left - 14, ys.getPixelForValue(v) + 0.5, 1.1));
      ctx.font = '26px ' + SERIF; ctx.textAlign = 'center'; ctx.textBaseline = 'alphabetic';
      wideText(ctx, panelLabels[i], ca.right + 60, top + 36.5, 1.14);
    });
    // bottom axis
    line(ca.left - 1, ca.bottom, ca.right + 1, ca.bottom);
    xTickValues.forEach(v => { const x = xs.getPixelForValue(v); line(x, ca.bottom, x, ca.bottom + 11); });
    xMinorTicks.forEach(v => { const x = xs.getPixelForValue(v); line(x, ca.bottom, x, ca.bottom + 7); });
    line(ca.left, ca.top, ca.left, ca.bottom);
    line(ca.right, ca.top, ca.right, ca.bottom);
    ctx.font = '22px ' + SANS; ctx.textAlign = 'center'; ctx.textBaseline = 'alphabetic';
    xTickValues.forEach((v, k) => wideText(ctx, xTickLabels[k], xs.getPixelForValue(v), ca.bottom + 38.5, 1.08));
    // titles
    ctx.font = 'bold 30px ' + SERIF;
    ctx.fillText(chartTitle, 447, 27);
    ctx.fillText(xTitle, (ca.left + ca.right) / 2 - 6, 1160);
    ctx.translate(36, 539); ctx.rotate(-Math.PI / 2);
    ctx.fillText(yTitle, 0, 0);
    ctx.restore();
  }
};

new Chart(document.getElementById('c'), {
  type: 'line',
  data: {
    datasets: series.map((s, i) => ({
      label: panelLabels[i], data: toPoints(s), yAxisID: 'y' + i, xAxisID: 'x',
      borderColor: '#000', borderWidth: 1, pointRadius: 0, tension: 0, fill: false
    }))
  },
  options: {
    responsive: false, animation: false, events: [],
    layout: {padding: {left: 108, right: 115, top: 39, bottom: 84}},
    plugins: {legend: {display: false}, tooltip: {enabled: false}, title: {display: false}},
    scales: scales
  },
  plugins: [framePlugin]
});
</script>
</body>
</html>
